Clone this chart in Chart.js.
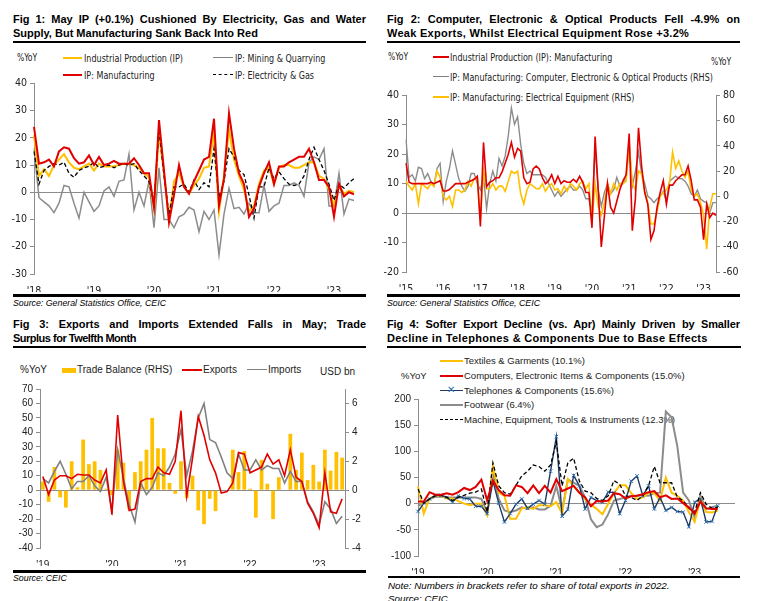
<!DOCTYPE html>
<html>
<head>
<meta charset="utf-8">
<script src="https://cdn.jsdelivr.net/npm/chart.js@4.4.0/dist/chart.umd.min.js"></script>
<style>
  body { margin: 0; background: #fff; width: 757px; height: 601px; overflow: hidden; position: relative; font-family: "Liberation Sans", Arial, sans-serif; color: #000; }
  .t { position: absolute; font-weight: bold; font-size: 11px; line-height: 14px; white-space: nowrap; }
  .t .l1 { text-align: justify; text-align-last: justify; }
  .rule { position: absolute; background: #000; }
  .src { position: absolute; font-style: italic; font-size: 8.8px; line-height: 12px; white-space: nowrap; }
  .lg { position: absolute; white-space: nowrap; font-family: "Liberation Sans Narrow", "DejaVu Sans Condensed", sans-serif; font-size: 10.5px; line-height: 12px; color: #222; transform: scaleX(0.85); transform-origin: left center; }
  .lr { position: absolute; white-space: nowrap; font-size: 10px; line-height: 12px; color: #222; }
  .sw { position: absolute; height: 0; }
  canvas { position: absolute; }
</style>
</head>
<body>

<!-- Fig 1 -->
<div class="t" style="left:13px;top:12px;width:353px">
  <div class="l1">Fig 1: May IP (+0.1%) Cushioned By Electricity, Gas and Water</div>
  <div>Supply, But Manufacturing Sank Back Into Red</div>
</div>
<div class="rule" style="left:13px;top:41px;width:353px;height:2px"></div>
<div class="lg" style="left:17px;top:52px;font-size:10px">%YoY</div>
<div class="sw" style="left:63px;top:57px;width:19px;border-top:2px solid #FFC000"></div>
<div class="lg" style="left:84px;top:52px">Industrial Production (IP)</div>
<div class="sw" style="left:213px;top:57px;width:20px;border-top:1.5px solid #808080"></div>
<div class="lg" style="left:235px;top:52px">IP: Mining &amp; Quarrying</div>
<div class="sw" style="left:63px;top:74px;width:19px;border-top:2px solid #E00000"></div>
<div class="lg" style="left:84px;top:69px">IP: Manufacturing</div>
<div class="sw" style="left:213px;top:74px;width:20px;border-top:1.5px dashed #000"></div>
<div class="lg" style="left:235px;top:69px">IP: Electricity &amp; Gas</div>
<canvas id="c1" width="350" height="218" style="left:10px;top:74px"></canvas>
<div class="rule" style="left:13px;top:294px;width:353px;height:3px"></div>
<div class="src" style="left:13px;top:297px">Source: General Statistics Office, CEIC</div>

<!-- Fig 2 -->
<div class="t" style="left:387px;top:12px;width:353px">
  <div class="l1">Fig 2: Computer, Electronic &amp; Optical Products Fell -4.9% on</div>
  <div style="letter-spacing:0.27px">Weak Exports, Whilst Electrical Equipment Rose +3.2%</div>
</div>
<div class="rule" style="left:387px;top:41px;width:353px;height:2px"></div>
<div class="lg" style="left:388px;top:51px;font-size:10px">%YoY</div>
<div class="lg" style="left:711px;top:56px;font-size:10px">%YoY</div>
<div class="sw" style="left:433px;top:56px;width:16px;border-top:2px solid #E00000"></div>
<div class="lg" style="left:450px;top:51px">Industrial Production (IP): Manufacturing</div>
<div class="sw" style="left:433px;top:76px;width:16px;border-top:1.5px solid #808080"></div>
<div class="lg" style="left:450px;top:71px">IP: Manufacturing: Computer, Electronic &amp; Optical Products (RHS)</div>
<div class="sw" style="left:433px;top:96px;width:16px;border-top:2px solid #FFC000"></div>
<div class="lg" style="left:450px;top:91px">IP: Manufacturing: Electrical Equipment (RHS)</div>
<canvas id="c2" width="360" height="204" style="left:380px;top:86px"></canvas>
<div class="rule" style="left:387px;top:294px;width:353px;height:3px"></div>
<div class="src" style="left:387px;top:297px">Source: General Statistics Office, CEIC</div>

<!-- Fig 3 -->
<div class="t" style="left:13px;top:317px;width:353px">
  <div class="l1">Fig 3: Exports and Imports Extended Falls in May; Trade</div>
  <div style="letter-spacing:-0.5px">Surplus for Twelfth Month</div>
</div>
<div class="rule" style="left:13px;top:346px;width:353px;height:2px"></div>
<div class="lr" style="left:20px;top:364px">%YoY</div>
<div class="sw" style="left:62px;top:368px;width:14px;height:5px;background:#FFC000"></div>
<div class="lr" style="left:77px;top:364px">Trade Balance (RHS)</div>
<div class="sw" style="left:182px;top:369px;width:20px;border-top:2px solid #E00000"></div>
<div class="lr" style="left:203px;top:364px">Exports</div>
<div class="sw" style="left:247px;top:369px;width:20px;border-top:1.5px solid #808080"></div>
<div class="lr" style="left:268px;top:364px">Imports</div>
<div class="lr" style="left:320px;top:366px">USD bn</div>
<canvas id="c3" width="353" height="186" style="left:12px;top:380px"></canvas>
<div class="rule" style="left:13px;top:570px;width:353px;height:3px"></div>
<div class="src" style="left:13px;top:572px">Source: CEIC</div>

<!-- Fig 4 -->
<div class="t" style="left:387px;top:317px;width:353px">
  <div class="l1" style="letter-spacing:-0.1px">Fig 4: Softer Export Decline (vs. Apr) Mainly Driven by Smaller</div>
  <div style="letter-spacing:0.33px">Decline in Telephones &amp; Components Due to Base Effects</div>
</div>
<div class="rule" style="left:387px;top:346px;width:354px;height:2px"></div>
<div class="lr" style="left:401px;top:370px;font-size:9.5px">%YoY</div>
<div class="sw" style="left:440px;top:360px;width:23px;border-top:2px solid #FFC000"></div>
<div class="lr" style="left:464px;top:355px;font-size:9.5px">Textiles &amp; Garments (10.1%)</div>
<div class="sw" style="left:440px;top:375px;width:23px;border-top:2px solid #E00000"></div>
<div class="lr" style="left:464px;top:370px;font-size:9.5px">Computers, Electronic Items &amp; Components (15.0%)</div>
<div class="sw" style="left:440px;top:390px;width:23px;border-top:1.5px solid #1F3864"></div>
<div class="lr" style="left:447px;top:384px;font-size:10px;color:#2E75B6">&#x2715;</div>
<div class="lr" style="left:464px;top:385px;font-size:9.5px">Telephones &amp; Components (15.6%)</div>
<div class="sw" style="left:440px;top:404px;width:23px;border-top:2px solid #8c8c8c"></div>
<div class="lr" style="left:464px;top:399px;font-size:9.5px">Footwear (6.4%)</div>
<div class="sw" style="left:440px;top:419px;width:23px;border-top:1.5px dashed #000"></div>
<div class="lr" style="left:464px;top:414px;font-size:9.5px">Machine, Equipment, Tools &amp; Instruments (12.3%)</div>
<canvas id="c4" width="350" height="184" style="left:390px;top:390px"></canvas>
<div class="rule" style="left:388px;top:576px;width:352px;height:2px"></div>
<div class="src" style="left:388px;top:580px;font-size:9.8px">Note: Numbers in brackets refer to share of total exports in 2022.</div>
<div class="src" style="left:388px;top:593px;font-size:9.8px">Source: CEIC</div>

<script>
// ---- Fig 1 data: Jan 2018 - May 2023, %YoY
const fig1IP = [21,6,8.5,6,10,12,14,11,9,8.5,9.5,10.5, 8,10.5,9.5,9.5,9.5,10,10.5,10.5,10,9,7,5.5,
  -6,22,7,-10,4,7,2,-0.5,2.5,5,9,9.5, 22,-7,6,23,12,6,1,-7,-5,3,8,9,
  3,9,10,10,9,9,10,11,11,6,5,1, -5,2.5,-0.5,0.5,0.1];
const fig1Mfg = [24,10.5,11,12,9.5,15,16.5,16,12.5,10.5,11,13.5, 10,13,10,10.5,11.5,10.5,10.5,10.5,12.5,10,7,7,
  -5.5,26.5,8,-11,-1,10,2,-0.5,4,8,12,13, 27,-5,5,29,16,7,3,-9,-6,2,7,11,
  3,9.5,9.5,11,12,13,13,16,11,4.5,4.5,2, -9,3,-1.5,0,-0.8];
const fig1Mining = [16,-2,-3.5,-5,-7.5,-4,2.5,2,-4,-9.5,0,-3.5, -7,-5,0.5,2,-1.5,4,4.5,14,-6.5,0,-5,4,
  -13,9,-10,-10,-13,-9,-8,-5.5,-6.5,-14.5,-7,-10, -6.5,-23,-8,1.5,-6,-5.5,-8,-4,-7.5,-7.5,2.5,-7,
  -5,-4,2.5,2.5,3.5,2.5,-1.5,11,13,12,16,-5, -5,7,-8,-2.5,-3];
const fig1Elec = [15,3,8,9.5,10.5,10,11,7,5.5,8,9,9.5, 11,9,9.5,10,9,10,10.5,10,10.5,8,6,4,
  -4,23,6,-8,2,2,3,0,4.5,1,3.5,2, 16,-2,4,16,13,8,6.5,-1,-9.5,2,2,9,
  5,7.5,5,3,2.5,3,6,12,16.5,12,8,3, -3,3,1.5,3.5,5];

// ---- Fig 2 data: Jan 2015 - May 2023 (LHS: manufacturing, RHS: sub-sectors)
const fig2Mfg = [17,10.5,10,10,10,10,10,10,10.5,10,10.5,11, 7.5,7.5,8,9,10,10,10,10,10.5,11,11.5,12.5,
  -4.5,24,9,10.5,11,12,12,14,17,20,24,19, 22,21,12,10,10.5,15,16,15,12,10,11,13,
  10,12.5,10,11,10.5,10.5,11.5,10.5,12.5,10.5,7,7, -5,26,8,-11.5,-1,10,2,0,4,8,11,13,
  27,-6,5,29,16,7,3,-9,-6,2,7,11, 3,9.5,9.5,11,12,13,13,16,11,4.5,4.5,2, -9,3,-1.5,0,-0.8];
const fig2Computer = [45,15,17,12,23,22,14,18,12,8,22,26, -4,12,22,36,25,14,8,4,8,18,18,10,
  5,16,-10,10,20,12,30,24,32,48,70,57, 63,41,26,18,20,17,17,17,17,15,10,5,
  0,4,0,3,6,8,5,5,8,5,-2,-2, -12,38,5,-8,3,10,2,5,15,8,10,15,
  40,8,20,35,18,10,0,-2,-5,-2,0,4, -4,12,14,16,14,14,12,8,2,0,5,-2, -4,-5,-13,-5,-5];
const fig2Electrical = [12,8,5,10,-6,10,8,6,10,8,20,15, 0,-3,0,-8,5,5,3,5,12,8,14,15,
  -18,20,6,6,10,5,8,8,4,12,20,18, 20,2,-6,5,10,8,6,6,10,4,8,10,
  5,6,2,8,4,10,8,5,10,12,6,10, -20,10,-8,-15,-5,10,2,10,5,10,10,12,
  42,10,5,20,18,4,-5,-22,-22,-12,0,3, 5,10,35,22,28,20,15,20,5,0,2,-5, -15,-42,-8,2,2];

// ---- Fig 3 data: Jan 2019 - May 2023
const fig3Balance = [0.6,-0.8,1.6,-0.5,-1.2,2.0,0.2,3.5,1.8,2.0,1.4,0.1,
  -0.35,2.8,1.9,-1.3,1.25,2.0,2.8,5.0,2.9,2.9,0.5,-0.25,
  2.0,-0.55,1.0,-1.4,-2.35,-0.6,-1.45,0,0,2.8,1.25,2.7,
  0.1,-1.9,2.1,0.45,-2.0,0.9,0,3.9,1.4,2.6,0.7,1.75,
  0.6,2.8,1.35,2.65,2.25];
const fig3Exports = [9.5,-3,7,10,10,8,11,10.5,10.5,7,5,14, -17,52,6,-14,-13,6,8,8,16,12,11,20,
  55,-4,22,51,38,21,12,-2,-1,5,26,25, 12,14,16,25,18,21,10,28,9,6,-9,-16, -26,12,-15,-16,-6];
const fig3Imports = [8,5,13,20,11,1,6,6,10,3,-1,9, -14,28,8,-10,-22,5,-3,2,12,10,16,25,
  42,10,27,50,60,35,33,23,12,8,25,14, 14,21,14,17,15,15,5,13,6,6,-8,-15, -24,-8,-13,-23,-18];

// ---- Fig 4 data: Jan 2019 - May 2023, %YoY
const fig4Textiles = [33,-19,10,15,15,10,10,5,0,-3,0,0, -22,71,21,15,-29,-29,-9,-7,-10,-3,-3,-5,
  3,-19,47,34,21,9,-2,-10,-20,0,20,35, 35,20,9,12,21,20,6,50,21,15,6,-16, -35,9,-16,-17,-13];
const fig4Computers = [4,4,22,17,17,20,17,22,30,26,32,46, 6,44,26,16,15,35,32,20,35,20,34,21,
  47,24,29,34,21,12,-5,5,4,6,20,18, 10,14,15,18,22,24,12,16,9,10,1,-7, -19,4,-9,-10,-10];
const fig4Phones = [-15,1,9,16,16,12,3,15,10,9,-5,-5, -19,43,1,-35,-19,-1,9,-9,-1,6,-1,62,
  128,-24,-11,54,34,-10,12,6,3,22,21,-19, 6,43,53,15,34,-10,12,-13,-7,-15,-16,-44, 3,9,-35,-34,-4];
const fig4Footwear = [-4,2,9,13,13,12,12,12,12,12,12,9, -16,59,9,-13,-16,-13,-7,-10,-7,-11,-11,-4,
  34,-13,46,40,34,12,-30,-45,-40,-20,6,9, 12,15,15,16,15,20,21,176,165,109,21,6, -26,15,-10,-7,-4];
const fig4Machine = [28,1,9,15,16,12,6,12,16,20,22,28, -16,78,34,21,18,35,53,62,74,71,62,74,
  118,34,78,87,43,24,21,10,6,15,44,37, 15,12,6,15,34,71,40,40,40,12,6,-9, -16,21,-1,-9,-7];

// month axis labels, shown as '18, '19 ... on Januaries
function monthLabels(startYear, count) {
  const out = [];
  for (let i = 0; i < count; i++) {
    out.push((startYear + Math.floor(i / 12)) + '-' + String(i % 12 + 1).padStart(2, '0'));
  }
  return out;
}
const fig1Months = monthLabels(2018, 65);
const fig2Months = monthLabels(2015, 101);
const fig3Months = monthLabels(2019, 53);
const fig4Months = monthLabels(2019, 56); // axis runs a few months past the data

const NARROW = "'Liberation Sans Narrow','DejaVu Sans Condensed',sans-serif";
const REG = "'Liberation Sans',Arial,sans-serif";
const GREY_AXIS = '#8c8c8c';

Chart.defaults.animation = false;
Chart.defaults.plugins.legend.display = false;
Chart.defaults.plugins.tooltip.enabled = false;

function xAxis(labels, font, offset) {
  return {
    type: 'category', offset: offset,
    grid: { display: false }, border: { display: false },
    ticks: {
      autoSkip: false, maxRotation: 0, font: font, color: '#222', padding: 3,
      callback: (v, i) => labels[i].endsWith('-01') ? "'" + labels[i].slice(2, 4) : null,
    },
    afterFit: (s) => { s.height = 18; },
  };
}

function yAxis(pos, min, max, step, font, width, zeroLine) {
  return {
    position: pos, min: min, max: max,
    ticks: { stepSize: step, autoSkip: false, includeBounds: false, font: font, color: '#222', padding: 3 },
    grid: {
      drawOnChartArea: zeroLine,
      color: (c) => (c.tick && c.tick.value === 0 ? GREY_AXIS : 'rgba(0,0,0,0)'),
      tickColor: GREY_AXIS, tickLength: 4,
    },
    border: { color: GREY_AXIS },
    afterFit: (s) => { s.width = width; },
  };
}

function line(data, color, width, order, extra) {
  return Object.assign({
    type: 'line', data: data, borderColor: color, backgroundColor: color,
    borderWidth: width, pointRadius: 0, tension: 0, fill: false, order: order,
  }, extra || {});
}

// Fig 1
const f1font = { family: NARROW, size: 10.5 };
new Chart(document.getElementById('c1'), {
  type: 'line',
  data: {
    labels: fig1Months,
    datasets: [
      line(fig1IP, '#FFC000', 2, 3),
      line(fig1Mining, '#8c8c8c', 1.5, 4),
      line(fig1Mfg, '#E00000', 2, 1),
      line(fig1Elec, '#000', 1.3, 2, { borderDash: [4, 2.5] }),
    ],
  },
  options: {
    responsive: false,
    layout: { padding: { top: 6, right: 6 } },
    scales: {
      x: xAxis(fig1Months, f1font, false),
      y: yAxis('left', -30, 40, 10, f1font, 24, true),
    },
  },
});

// Fig 2
new Chart(document.getElementById('c2'), {
  type: 'line',
  data: {
    labels: fig2Months,
    datasets: [
      line(fig2Mfg, '#E00000', 1.6, 1, { yAxisID: 'y' }),
      line(fig2Computer, '#8c8c8c', 1.4, 3, { yAxisID: 'y1' }),
      line(fig2Electrical, '#FFC000', 1.6, 2, { yAxisID: 'y1' }),
    ],
  },
  options: {
    responsive: false,
    layout: { padding: { top: 6 } },
    scales: {
      x: xAxis(fig2Months, f1font, false),
      y: yAxis('left', -20, 40, 10, f1font, 26, true),
      y1: yAxis('right', -60, 80, 20, f1font, 24, false),
    },
  },
});

// Fig 3
const f3font = { family: REG, size: 10 };
new Chart(document.getElementById('c3'), {
  data: {
    labels: fig3Months,
    datasets: [
      { type: 'bar', data: fig3Balance, yAxisID: 'y1', backgroundColor: '#FFC000',
        categoryPercentage: 1, barPercentage: 0.65, order: 3 },
      line(fig3Exports, '#E00000', 1.6, 1, { yAxisID: 'y' }),
      line(fig3Imports, '#808080', 1.6, 2, { yAxisID: 'y' }),
    ],
  },
  options: {
    responsive: false,
    layout: { padding: { top: 6 } },
    scales: {
      x: xAxis(fig3Months, f3font, true),
      y: yAxis('left', -40, 70, 10, f3font, 28, true),
      y1: yAxis('right', -4, 7, 2, f3font, 20, false),
    },
  },
});

// Fig 4
new Chart(document.getElementById('c4'), {
  type: 'line',
  data: {
    labels: fig4Months,
    datasets: [
      line(fig4Textiles, '#FFC000', 2, 4),
      line(fig4Computers, '#E00000', 2, 1),
      line(fig4Phones, '#1F3864', 1.4, 3, { pointRadius: 2.5, pointStyle: 'crossRot', pointBorderColor: '#2E75B6', pointBorderWidth: 1 }),
      line(fig4Footwear, '#8c8c8c', 2, 5),
      line(fig4Machine, '#000', 1.3, 2, { borderDash: [4, 2.5] }),
    ],
  },
  options: {
    responsive: false,
    layout: { padding: { top: 6, right: 4 } },
    scales: {
      x: xAxis(fig4Months, f3font, false),
      y: yAxis('left', -100, 200, 50, f3font, 28, true),
    },
  },
});
</script>
</body>
</html>
